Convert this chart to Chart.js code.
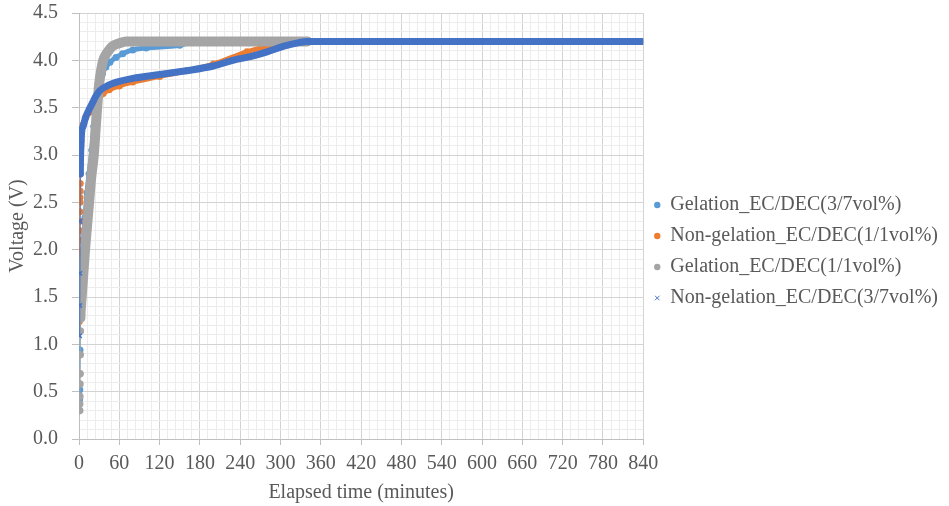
<!DOCTYPE html>
<html>
<head>
<meta charset="utf-8">
<script src="https://cdn.jsdelivr.net/npm/chart.js@4/dist/chart.umd.min.js"></script>
<style>
  html, body { margin: 0; padding: 0; background: #fff; }
  #wrap { width: 949px; height: 506px; }
</style>
</head>
<body>
<div id="wrap"><canvas id="voltChart"></canvas></div>
<script>
// series names
const seriesNames = [
    'Gelation_EC/DEC(3/7vol%)',
    'Non-gelation_EC/DEC(1/1vol%)',
    'Gelation_EC/DEC(1/1vol%)',
    'Non-gelation_EC/DEC(3/7vol%)'
];

// Gelation 3/7 (light blue)
const gel37Time = [1, 1.2, 1.5, 2, 3, 5, 7, 9, 12, 15, 19, 22, 26, 30, 35, 40, 46, 55, 65, 80, 100, 150, 175, 250, 330];
const gel37Volt = [0.42, 0.52, 0.94, 1.3, 1.5, 1.8, 2.1, 2.34, 2.6, 2.8, 3.05, 3.3, 3.58, 3.75, 3.86, 3.93, 3.98, 4.03, 4.07, 4.11, 4.13, 4.16, 4.2, 4.2, 4.2];

// Non-gelation 1/1 (orange)
const nonGel11Time = [0.5, 0.7, 0.9, 1, 1.1, 1.2, 1.3, 1.4, 1.5, 1.6, 1.7, 1.8, 2, 2.2, 2.5, 3, 4, 6, 10, 15, 20, 28, 36, 45, 60, 80, 120, 160, 200, 250, 275, 294, 305, 340];
const nonGel11Volt = [1.24, 1.55, 1.84, 1.99, 2.1, 2.2, 2.3, 2.4, 2.5, 2.55, 2.62, 2.7, 2.8, 2.9, 3.0, 3.15, 3.25, 3.32, 3.4, 3.45, 3.5, 3.57, 3.65, 3.69, 3.73, 3.77, 3.83, 3.89, 3.96, 4.09, 4.14, 4.17, 4.2, 4.2];

// Gelation 1/1 (gray)
const gel11Time = [1, 1, 1.2, 1.4, 1.6, 1.8, 2, 2.2, 3, 4, 6, 9, 12, 15, 18, 22, 25, 27, 30, 33, 36, 40, 45, 50, 60, 70, 80, 120, 200, 300, 340];
const gel11Volt = [0.30, 0.37, 0.45, 0.58, 0.69, 0.89, 1.14, 1.28, 1.40, 1.50, 1.70, 2.00, 2.25, 2.50, 2.75, 3.00, 3.30, 3.50, 3.75, 3.90, 4.00, 4.06, 4.11, 4.15, 4.18, 4.20, 4.20, 4.20, 4.20, 4.20, 4.20];

// Non-gelation 3/7 (dark blue)
const nonGel37Time = [1, 1.2, 1.4, 1.7, 2, 3, 4, 6, 10, 15, 20, 25, 31, 45, 56, 80, 120, 160, 200, 229, 255, 280, 305, 329, 340, 400, 500, 600, 700, 840];
const nonGel37Volt = [1.09, 1.41, 1.75, 2.3, 2.8, 3.1, 3.25, 3.3, 3.4, 3.48, 3.55, 3.62, 3.68, 3.74, 3.77, 3.81, 3.85, 3.89, 3.94, 4.0, 4.04, 4.09, 4.15, 4.19, 4.2, 4.2, 4.2, 4.2, 4.2, 4.2];

const seriesColors = ['#5B9BD5', '#ED7D31', '#A5A5A5', '#4472C4'];

const toPoints = (xs, ys) => xs.map((x, i) => ({ x: x, y: ys[i] }));

const textColor = '#595959';
const serif = "'Liberation Serif', 'Times New Roman', serif";

let makeSet = (idx, xs, ys, width, style, radius, order) => ({
    label: seriesNames[idx],
    data: toPoints(xs, ys),
    showLine: true,
    borderColor: seriesColors[idx],
    backgroundColor: seriesColors[idx],
    borderWidth: width,
    pointStyle: style,
    pointRadius: radius,
    pointBorderWidth: style === 'crossRot' ? 1.5 : 0,
    pointBorderColor: seriesColors[idx],
    cubicInterpolationMode: 'monotone',
    borderCapStyle: 'round',
    borderJoinStyle: 'round',
    order: order,
    segment: {
        // the first few minutes are loose markers only
        borderWidth: ctx => ctx.p1.parsed.x < 2.6 ? 1 : width
    }
});

let isMajorX = v => Math.round(v) % 60 === 0;
let isMajorY = v => Math.round(v * 10) % 5 === 0;

let ctx = document.getElementById('voltChart').getContext('2d');
let chart = new Chart(ctx, {
    type: 'scatter',
    data: {
        datasets: [
            makeSet(0, gel37Time, gel37Volt, 5, 'circle', 3.5, 4),
            makeSet(1, nonGel11Time, nonGel11Volt, 5, 'circle', 3.5, 3),
            makeSet(2, gel11Time, gel11Volt, 10, 'circle', 3.8, 2),
            makeSet(3, nonGel37Time, nonGel37Volt, 7, 'crossRot', 3, 1)
        ]
    },
    options: {
        responsive: true,
        maintainAspectRatio: false,
        animation: false,
        layout: { padding: { top: 0, left: 0, right: 1, bottom: 3 } },
        plugins: {
            tooltip: { enabled: false },
            legend: {
                position: 'right',
                align: 'center',
                maxWidth: 310,
                labels: {
                    usePointStyle: true,
                    boxWidth: 6,
                    boxHeight: 4.5,
                    padding: 11,
                    color: textColor,
                    font: { family: serif, size: 20 },
                    sort: (a, b) => a.datasetIndex - b.datasetIndex,
                    generateLabels: c => {
                        let items = Chart.defaults.plugins.legend.labels.generateLabels(c);
                        items.forEach(it => {
                            it.lineWidth = it.pointStyle === 'crossRot' ? 1 : 0;
                        });
                        return items;
                    }
                }
            }
        },
        scales: {
            x: {
                type: 'linear',
                min: 0,
                max: 840,
                border: { color: '#bfbfbf' },
                grid: {
                    color: c => isMajorX(c.tick.value) ? '#d3d3d3' : '#ececec',
                    tickColor: c => isMajorX(c.tick.value) ? '#bfbfbf' : 'rgba(0,0,0,0)',
                    tickLength: 6
                },
                ticks: {
                    stepSize: 12,
                    autoSkip: false,
                    maxRotation: 0,
                    minRotation: 0,
                    color: textColor,
                    font: { family: serif, size: 20 },
                    padding: 7,
                    callback: v => isMajorX(v) ? String(v) : ''
                },
                title: {
                    display: true,
                    text: 'Elapsed time (minutes)',
                    color: textColor,
                    font: { family: serif, size: 20, lineHeight: 1 },
                    padding: { top: 0, bottom: 0 }
                }
            },
            y: {
                min: 0,
                max: 4.5,
                border: { color: '#bfbfbf' },
                afterFit: s => { s.paddingTop = 13; },
                grid: {
                    color: c => isMajorY(c.tick.value) ? '#d3d3d3' : '#ececec',
                    tickColor: c => isMajorY(c.tick.value) ? '#bfbfbf' : 'rgba(0,0,0,0)',
                    tickLength: 7
                },
                ticks: {
                    stepSize: 0.1,
                    autoSkip: false,
                    color: textColor,
                    font: { family: serif, size: 20, lineHeight: 1 },
                    padding: 14,
                    callback: v => isMajorY(v) ? v.toFixed(1) : ''
                },
                title: {
                    display: true,
                    text: 'Voltage (V)',
                    color: textColor,
                    font: { family: serif, size: 20, lineHeight: 0.1 },
                    padding: { top: 17, bottom: 0 }
                }
            }
        }
    }
});
</script>
</body>
</html>
